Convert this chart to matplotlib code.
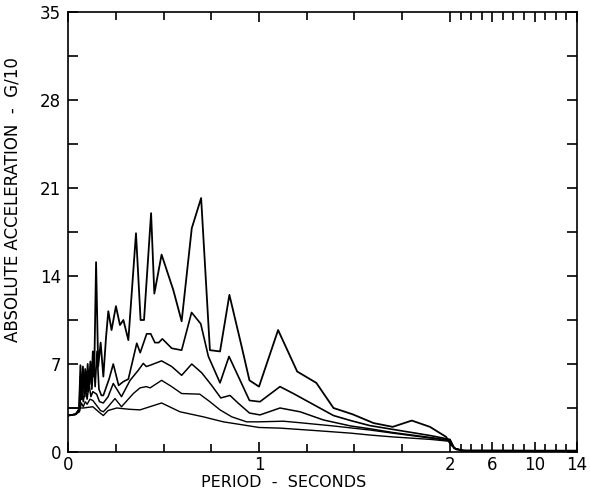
import numpy as np
import matplotlib
matplotlib.use("Agg")
import matplotlib.pyplot as plt

# Period (s) / absolute acceleration (G/10), five damping levels
period_1 = [0, 0.04, 0.058, 0.065, 0.072, 0.078, 0.085, 0.09, 0.097, 0.103, 0.11, 0.117,
            0.123, 0.13, 0.137, 0.147, 0.158, 0.171, 0.185, 0.199, 0.211, 0.228, 0.251,
            0.272, 0.29, 0.316, 0.356, 0.38, 0.398, 0.435, 0.452, 0.49, 0.551, 0.595,
            0.648, 0.697, 0.743, 0.796, 0.845, 0.909, 0.95, 1.0, 1.10, 1.20, 1.30, 1.39,
            1.49, 1.60, 1.70, 1.80, 1.895, 1.98, 2.05, 2.6, 3.5, 6, 10, 14]
accel_1 = [2.9, 3.0, 3.4, 6.9, 4.2, 6.8, 4.6, 6.6, 4.8, 7.0, 5.2, 7.2,
           5.4, 8.0, 6.0, 15.1, 6.8, 8.7, 6.0, 9.1, 11.2, 9.7, 11.6,
           10.1, 10.5, 8.9, 17.4, 10.5, 10.5, 19.0, 12.6, 15.7, 12.9, 10.4,
           17.8, 20.2, 8.1, 8.0, 12.5, 8.4, 5.7, 5.2, 9.7, 6.4, 5.5, 3.5,
           3.0, 2.3, 2.0, 2.5, 2.0, 1.2, 0.6, 0.2, 0.12, 0.12, 0.1, 0.1]

period_2 = [0, 0.04, 0.058, 0.065, 0.072, 0.08, 0.088, 0.095, 0.105, 0.115, 0.125, 0.135,
            0.142, 0.152, 0.162, 0.175, 0.185, 0.215, 0.237, 0.265, 0.29, 0.316, 0.36,
            0.378, 0.412, 0.433, 0.455, 0.475, 0.494, 0.543, 0.595, 0.647, 0.695, 0.735,
            0.796, 0.843, 0.892, 0.95, 1.005, 1.11, 1.18, 1.30, 1.39, 1.48, 1.58, 1.70,
            1.80, 1.90, 2.0, 2.4, 3.2, 14]
accel_2 = [2.9, 3.0, 3.4, 6.0, 4.2, 6.2, 4.4, 6.4, 4.8, 6.6, 5.0, 7.6,
           5.2, 8.0, 5.0, 4.5, 4.5, 5.8, 7.0, 5.3, 5.6, 5.8, 8.65,
           7.9, 9.4, 9.4, 8.7, 8.7, 9.0, 8.25, 8.1, 11.1, 10.2, 7.6,
           5.5, 7.6, 6.0, 4.1, 4.0, 5.2, 4.65, 3.65, 2.9, 2.5, 2.1, 1.8,
           1.55, 1.3, 1.0, 0.3, 0.1, 0.1]

period_3 = [0, 0.04, 0.06, 0.07, 0.08, 0.09, 0.1, 0.11, 0.12, 0.13, 0.15, 0.165, 0.185,
            0.21, 0.237, 0.28, 0.325, 0.368, 0.394, 0.41, 0.43, 0.49, 0.543, 0.595,
            0.648, 0.70, 0.752, 0.80, 0.848, 0.89, 0.95, 1.005, 1.11, 1.215, 1.337,
            1.48, 1.58, 1.70, 1.80, 1.90, 2.0, 2.4, 3.2, 14]
accel_3 = [2.9, 3.0, 3.3, 5.0, 4.0, 5.2, 4.2, 5.4, 4.4, 4.8, 4.6, 4.0, 3.9,
           4.4, 5.45, 4.4, 5.7, 6.5, 7.05, 6.8, 6.9, 7.25, 6.8, 6.1,
           7.0, 6.3, 5.3, 4.3, 4.5, 3.9, 3.1, 2.95, 3.5, 3.2, 2.55,
           2.07, 1.85, 1.55, 1.35, 1.15, 0.95, 0.3, 0.1, 0.1]

period_4 = [0, 0.04, 0.06, 0.07, 0.08, 0.09, 0.1, 0.115, 0.13, 0.15, 0.17, 0.185, 0.21,
            0.246, 0.28, 0.342, 0.377, 0.41, 0.43, 0.49, 0.543, 0.595, 0.69, 0.743,
            0.796, 0.857, 0.935, 1.0, 1.127, 1.2, 1.39, 1.58, 1.70, 1.80, 1.90, 2.0,
            2.4, 3.2, 14]
accel_4 = [2.9, 3.0, 3.2, 3.9, 3.6, 4.0, 3.8, 4.2, 4.1, 3.7, 3.3, 3.2, 3.6,
           4.25, 3.6, 4.65, 5.1, 5.2, 5.1, 5.7, 5.2, 4.65, 4.6, 4.0,
           3.35, 2.8, 2.4, 2.4, 2.45, 2.35, 2.07, 1.75, 1.5, 1.3, 1.1, 0.9,
           0.3, 0.1, 0.1]

period_5 = [0, 0.05, 0.08, 0.13, 0.16, 0.185, 0.21, 0.255, 0.32, 0.377, 0.49, 0.586,
            0.708, 0.813, 0.918, 1.0, 1.11, 1.30, 1.48, 1.58, 1.70, 1.80, 1.90, 2.0,
            2.4, 3.2, 14]
accel_5 = [3.5, 3.5, 3.5, 3.6, 3.2, 2.9, 3.3, 3.5, 3.4, 3.35, 3.9, 3.2,
           2.8, 2.4, 2.15, 1.95, 1.9, 1.7, 1.5, 1.35, 1.2, 1.1, 1.0, 0.85,
           0.3, 0.1, 0.1]

x_tick_vals = [0, 1, 2, 6, 10, 14]
x_tick_labels = ['0', '1', '2', '6', '10', '14']
y_tick_vals = [0, 7, 14, 21, 28, 35]

# eje x: 0-2 s lineal, 2-14 s comprimido
K = (127 / 191) / 12


def fwd(t):
    t = np.asarray(t, dtype=float)
    return np.where(t <= 2, t, 2 + (t - 2) * K)


def inv(u):
    u = np.asarray(u, dtype=float)
    return np.where(u <= 2, u, 2 + (u - 2) / K)


fig = plt.figure(figsize=(5.9, 5.01), dpi=100)
ax = fig.add_axes([68 / 590, 49 / 501, 509 / 590, 440 / 501])
ax.set_xscale('function', functions=(fwd, inv))

curves = [(period_1, accel_1), (period_2, accel_2), (period_3, accel_3),
          (period_4, accel_4), (period_5, accel_5)]
widths = [1.3, 1.2, 1.1, 1.0, 1.0]
for (p, a), lw in zip(curves, widths):
    ax.plot(p, a, color='black', linewidth=lw)

ax.set_xlim(0, 14)
ax.set_ylim(0, 35)

minor_x = list(np.arange(0.25, 2, 0.25)) + list(range(3, 14))
ax.set_xticks(x_tick_vals)
ax.set_xticklabels(x_tick_labels, fontsize=12)
ax.set_xticks(minor_x, minor=True)
ax.set_yticks(y_tick_vals)
ax.set_yticklabels([str(v) for v in y_tick_vals], fontsize=12)
ax.set_yticks(np.arange(3.5, 35, 7), minor=True)

ax.tick_params(which='both', direction='in', top=True, right=True, width=1.2)
ax.tick_params(which='major', length=7)
ax.tick_params(which='minor', length=5.5)
ax.tick_params(axis='y', which='minor', length=7)
ax.tick_params(axis='x', pad=3)
ax.tick_params(axis='y', pad=5)
for s in ax.spines.values():
    s.set_linewidth(1.2)

ax.set_xlabel('PERIOD  -  SECONDS', fontsize=11.5)
ax.set_ylabel('ABSOLUTE ACCELERATION  -  G/10', fontsize=12)
ax.xaxis.set_label_coords(0.424, -0.052)
ax.yaxis.set_label_coords(-0.092, 0.573)

fig.savefig('out.png', dpi=100)
